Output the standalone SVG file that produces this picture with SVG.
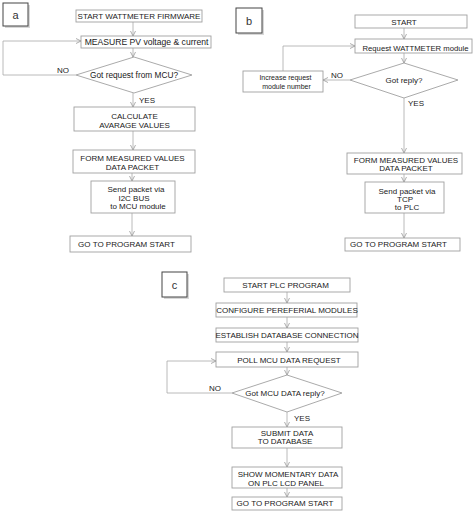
<svg xmlns="http://www.w3.org/2000/svg" width="474" height="514" viewBox="0 0 474 514">
<defs>
<marker id="arr" markerWidth="6" markerHeight="6" refX="5" refY="3" orient="auto" markerUnits="userSpaceOnUse">
<path d="M0,0.5 L5,3 L0,5.5" fill="none" stroke="#999" stroke-width="0.8"/>
</marker>
</defs>
<style>
text{font-family:"Liberation Sans",Arial,sans-serif;font-size:8px;fill:#1a1a1a;}
.c{text-anchor:middle;}
.box{fill:#fff;stroke:#a0a0a0;stroke-width:0.9;}
.sh{fill:#d8d8d8;}
.lab{fill:#fff;stroke:#444;stroke-width:1;}
.labt{font-size:11px;text-anchor:middle;fill:#333;}
.sm{font-size:7px;}
#connectors line,#connectors polyline{fill:none;stroke:#a8a8a8;stroke-width:0.8;}
.arrow{marker-end:url(#arr);}
</style>
<rect width="474" height="514" fill="#fff"/>

<!-- connectors -->
<g id="connectors">
<!-- a -->
<line class="arrow" x1="133" y1="22" x2="133" y2="36"/>
<line class="arrow" x1="133" y1="48" x2="133" y2="57"/>
<polyline class="arrow" points="76,75 3,75 3,41 81,41"/>
<line class="arrow" x1="133" y1="93" x2="133" y2="107"/>
<line class="arrow" x1="133" y1="131" x2="133" y2="150"/>
<line class="arrow" x1="132" y1="173" x2="132" y2="181"/>
<line class="arrow" x1="132" y1="213" x2="132" y2="236"/>
<!-- b -->
<line class="arrow" x1="404" y1="28" x2="404" y2="39"/>
<line class="arrow" x1="404" y1="53" x2="404" y2="63"/>
<line class="arrow" x1="350" y1="80" x2="323" y2="80"/>
<polyline class="arrow" points="283,71 283,46 355,46"/>
<line class="arrow" x1="404" y1="98" x2="404" y2="153"/>
<line class="arrow" x1="404" y1="174" x2="404" y2="182"/>
<line class="arrow" x1="404" y1="213" x2="404" y2="238"/>
<!-- c -->
<line class="arrow" x1="287" y1="292" x2="287" y2="303"/>
<line class="arrow" x1="287" y1="317" x2="287" y2="328"/>
<line class="arrow" x1="287" y1="342" x2="287" y2="352"/>
<line class="arrow" x1="287" y1="367" x2="287" y2="375"/>
<polyline class="arrow" points="232,393 167,393 167,361 216,361"/>
<line class="arrow" x1="287" y1="412" x2="287" y2="427"/>
<line class="arrow" x1="287" y1="448" x2="287" y2="467"/>
<line class="arrow" x1="287" y1="488" x2="287" y2="497"/>
</g>

<!-- connector labels -->
<g id="labels">
<text x="63" y="73" class="c">NO</text>
<text x="139" y="103">YES</text>
<text x="337" y="78" class="c">NO</text>
<text x="408" y="106">YES</text>
<text x="215" y="391" class="c">NO</text>
<text x="294" y="420.5">YES</text>
</g>

<!-- panel a -->
<g id="labelA"><rect class="sh" x="5" y="5" width="25" height="23"/><rect class="lab" x="3" y="3" width="25" height="23"/><text class="labt" x="15.5" y="18.5">a</text></g>
<g id="a1"><rect class="box" x="76" y="10" width="126" height="12"/><text class="c" x="139" y="19">START WATTMETER FIRMWARE</text></g>
<g id="a2"><rect class="box" x="81" y="36" width="130" height="12"/><text class="c" x="146.5" y="45" style="font-size:8.6px">MEASURE PV voltage &amp; current</text></g>
<g id="a3"><polygon class="box" points="134,57 192,75 134,93 76,75"/><text class="c" x="134" y="78" style="font-size:8.3px">Got request from MCU?</text></g>
<g id="a4"><rect class="box" x="74" y="107" width="121" height="24"/><text class="c" x="134.5" y="119">CALCULATE</text><text class="c" x="134.5" y="128">AVARAGE VALUES</text></g>
<g id="a5"><rect class="box" x="73" y="150" width="122" height="23"/><text class="c" x="132.5" y="161">FORM MEASURED VALUES</text><text class="c" x="132.5" y="169.5">DATA PACKET</text></g>
<g id="a6"><rect class="box" x="91" y="181" width="84" height="32"/><text class="c" x="136" y="192">Send packet via</text><text class="c" x="134" y="200.5">I2C BUS</text><text class="c" x="138" y="209">to MCU module</text></g>
<g id="a7"><rect class="box" x="70" y="236" width="121" height="16"/><text class="c" x="126.5" y="246.5">GO TO PROGRAM START</text></g>

<!-- panel b -->
<g id="labelB"><rect class="sh" x="238" y="10" width="26" height="25"/><rect class="lab" x="236" y="8" width="26" height="25"/><text class="labt" x="249" y="24.5">b</text></g>
<g id="b1"><rect class="box" x="355" y="15" width="112" height="13"/><text class="c" x="404" y="24.5">START</text></g>
<g id="b2"><rect class="box" x="355" y="39" width="117" height="14"/><text class="c" x="415.5" y="50.5" style="font-size:7.7px">Request WATTMETER module</text></g>
<g id="b3"><polygon class="box" points="404,63 458,80 404,98 350,80"/><text class="c" x="404" y="83">Got reply?</text></g>
<g id="b4"><rect class="box" x="243" y="71" width="80" height="21"/><text class="c sm" x="285.5" y="80">Increase request</text><text class="c sm" x="286.5" y="88.5">module number</text></g>
<g id="b5"><rect class="box" x="347" y="153" width="115" height="21"/><text class="c" x="406" y="162.5">FORM MEASURED VALUES</text><text class="c" x="406" y="171">DATA PACKET</text></g>
<g id="b6"><rect class="box" x="365" y="182" width="79" height="31"/><text class="c" x="407" y="194">Send packet via</text><text class="c" x="405" y="202">TCP</text><text class="c" x="407" y="209.5">to PLC</text></g>
<g id="b7"><rect class="box" x="345" y="238" width="115" height="13"/><text class="c" x="398.5" y="247">GO TO PROGRAM START</text></g>

<!-- panel c -->
<g id="labelC"><rect class="sh" x="164" y="274" width="25" height="25"/><rect class="lab" x="162" y="272" width="25" height="25"/><text class="labt" x="174.5" y="288.5">c</text></g>
<g id="c1"><rect class="box" x="224" y="278" width="126" height="14"/><text class="c" x="285.5" y="287.5">START PLC PROGRAM</text></g>
<g id="c2"><rect class="box" x="216" y="303" width="141" height="14"/><text class="c" x="287" y="313">CONFIGURE PEREFERIAL MODULES</text></g>
<g id="c3"><rect class="box" x="216" y="328" width="142" height="14"/><text class="c" x="287" y="338">ESTABLISH DATABASE CONNECTION</text></g>
<g id="c4"><rect class="box" x="216" y="352" width="142" height="15"/><text class="c" x="289" y="362.5">POLL MCU DATA REQUEST</text></g>
<g id="c5"><polygon class="box" points="287,375 342,393 287,412 232,393"/><text class="c" x="285" y="396">Got MCU DATA reply?</text></g>
<g id="c6"><rect class="box" x="232" y="427" width="110" height="21"/><text class="c" x="287" y="436">SUBMIT DATA</text><text class="c" x="285" y="444">TO DATABASE</text></g>
<g id="c7"><rect class="box" x="232" y="467" width="110" height="21"/><text class="c" x="288" y="477">SHOW MOMENTARY DATA</text><text class="c" x="286" y="485.5">ON PLC LCD PANEL</text></g>
<g id="c8"><rect class="box" x="232" y="497" width="110" height="13"/><text class="c" x="285" y="506">GO TO PROGRAM START</text></g>
</svg>
